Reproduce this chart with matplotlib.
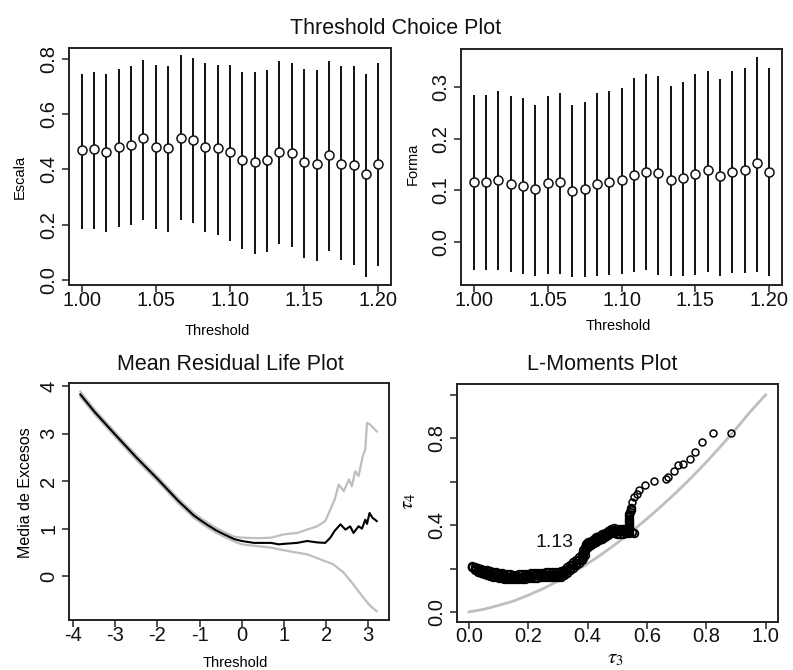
import matplotlib
matplotlib.use("Agg")
import matplotlib.pyplot as plt

plt.rcParams['font.family'] = ['Liberation Sans', 'DejaVu Sans']
plt.rcParams['mathtext.fontset'] = 'stix'

# ---- datos: Threshold Choice Plot ----
umbral = [1.0, 1.0083, 1.0167, 1.025, 1.0333, 1.0417, 1.05, 1.0583, 1.0667, 1.075,
          1.0833, 1.0917, 1.1, 1.1083, 1.1167, 1.125, 1.1333, 1.1417, 1.15, 1.1583,
          1.1667, 1.175, 1.1833, 1.1917, 1.2]
escala = [0.471, 0.475, 0.464, 0.480, 0.487, 0.513, 0.482, 0.476, 0.513, 0.506,
          0.482, 0.476, 0.464, 0.434, 0.427, 0.434, 0.464, 0.458, 0.426, 0.421,
          0.452, 0.421, 0.415, 0.384, 0.421]
escala_sup = [0.746, 0.753, 0.746, 0.764, 0.772, 0.796, 0.778, 0.772, 0.811, 0.803,
              0.784, 0.778, 0.778, 0.753, 0.753, 0.759, 0.790, 0.784, 0.764, 0.759,
              0.790, 0.772, 0.772, 0.746, 0.784]
escala_inf = [0.186, 0.186, 0.174, 0.192, 0.199, 0.216, 0.186, 0.174, 0.216, 0.206,
              0.174, 0.162, 0.141, 0.112, 0.096, 0.102, 0.131, 0.119, 0.080, 0.068,
              0.107, 0.072, 0.056, 0.012, 0.052]
forma = [0.116, 0.116, 0.120, 0.112, 0.109, 0.103, 0.113, 0.116, 0.099, 0.102,
         0.112, 0.116, 0.120, 0.129, 0.136, 0.133, 0.120, 0.123, 0.132, 0.139,
         0.127, 0.136, 0.139, 0.152, 0.136]
forma_sup = [0.285, 0.285, 0.292, 0.282, 0.279, 0.265, 0.282, 0.288, 0.265, 0.272,
             0.288, 0.292, 0.298, 0.318, 0.325, 0.322, 0.302, 0.309, 0.325, 0.332,
             0.315, 0.332, 0.338, 0.358, 0.338]
forma_inf = [-0.054, -0.054, -0.055, -0.058, -0.062, -0.066, -0.062, -0.062, -0.068, -0.068,
             -0.066, -0.064, -0.062, -0.058, -0.054, -0.064, -0.066, -0.066, -0.064, -0.059,
             -0.066, -0.061, -0.061, -0.058, -0.066]

# ---- datos: Mean Residual Life Plot ----
mrl_u = [-3.83, -3.5, -3.0, -2.5, -2.0, -1.5, -1.14, -1.0, -0.8, -0.6, -0.42, -0.18,
         0.0, 0.29, 0.69, 0.88, 1.0, 1.31, 1.55, 1.79, 1.98, 2.1, 2.2, 2.34, 2.46,
         2.57, 2.65, 2.77, 2.85, 2.93, 2.97, 3.03, 3.1, 3.2]
mrl_media = [3.83, 3.47, 2.98, 2.50, 2.05, 1.58, 1.28, 1.19, 1.07, 0.96, 0.88, 0.78,
             0.74, 0.70, 0.70, 0.67, 0.68, 0.70, 0.74, 0.71, 0.70, 0.81, 0.95, 1.09,
             0.98, 1.05, 0.91, 1.05, 1.00, 1.19, 1.10, 1.33, 1.23, 1.16]
ic_sup_u = [-3.83, -3.5, -3.0, -2.5, -2.0, -1.5, -1.14, -1.0, -0.8, -0.6, -0.42, -0.18,
            0.0, 0.4, 0.69, 1.0, 1.31, 1.55, 1.79, 1.98, 2.1, 2.2, 2.3, 2.42, 2.54,
            2.61, 2.69, 2.77, 2.87, 2.93, 2.97, 3.05, 3.2]
ic_sup = [3.89, 3.52, 3.03, 2.55, 2.10, 1.63, 1.33, 1.24, 1.12, 1.01, 0.93, 0.83,
          0.81, 0.80, 0.81, 0.88, 0.91, 0.98, 1.05, 1.16, 1.40, 1.61, 1.93, 1.79,
          2.04, 1.89, 2.21, 2.11, 2.53, 2.67, 3.23, 3.19, 3.05]
ic_inf_u = [-3.83, -3.5, -3.0, -2.5, -2.0, -1.5, -1.14, -1.0, -0.8, -0.6, -0.42, -0.18,
            0.0, 0.69, 1.08, 1.55, 1.87, 2.17, 2.42, 2.65, 2.89, 3.05, 3.2]
ic_inf = [3.78, 3.42, 2.93, 2.45, 2.00, 1.53, 1.23, 1.14, 1.02, 0.91, 0.83, 0.73,
          0.67, 0.60, 0.53, 0.46, 0.35, 0.25, 0.07, -0.18, -0.46, -0.63, -0.74]

# ---- datos: L-Moments Plot ----
t3_denso = [0.01, 0.02, 0.03, 0.04, 0.05, 0.06, 0.07, 0.08, 0.09, 0.10, 0.11, 0.12,
            0.13, 0.14, 0.15, 0.16, 0.17, 0.18, 0.19, 0.20, 0.21, 0.22, 0.23, 0.24,
            0.25, 0.26, 0.27, 0.28, 0.29, 0.30, 0.31, 0.32, 0.33, 0.34, 0.35, 0.36,
            0.37, 0.38, 0.385, 0.39, 0.395, 0.40, 0.41, 0.42, 0.43, 0.44, 0.45, 0.46,
            0.47, 0.48, 0.49, 0.50, 0.51, 0.52, 0.53, 0.54]
t4_denso_sup = [0.212, 0.207, 0.203, 0.199, 0.195, 0.191, 0.188, 0.185, 0.182, 0.180,
                0.178, 0.176, 0.174, 0.173, 0.172, 0.172, 0.173, 0.174, 0.176, 0.177,
                0.178, 0.179, 0.180, 0.181, 0.181, 0.182, 0.182, 0.182, 0.182, 0.184,
                0.187, 0.195, 0.206, 0.217, 0.228, 0.240, 0.252, 0.266, 0.285, 0.298,
                0.312, 0.320, 0.329, 0.336, 0.343, 0.350, 0.357, 0.365, 0.374, 0.384,
                0.385, 0.383, 0.382, 0.382, 0.384, 0.386]
t4_denso_med = [0.208, 0.200, 0.194, 0.189, 0.185, 0.181, 0.177, 0.174, 0.171, 0.169,
                0.167, 0.165, 0.163, 0.162, 0.161, 0.161, 0.162, 0.163, 0.165, 0.166,
                0.167, 0.168, 0.169, 0.170, 0.170, 0.171, 0.171, 0.171, 0.171, 0.172,
                0.174, 0.182, 0.193, 0.204, 0.215, 0.227, 0.239, 0.253, 0.268, 0.280,
                0.300, 0.310, 0.319, 0.326, 0.333, 0.340, 0.347, 0.355, 0.364, 0.374,
                0.374, 0.372, 0.371, 0.371, 0.373, 0.375]
t4_denso_inf = [0.205, 0.193, 0.185, 0.178, 0.174, 0.170, 0.166, 0.163, 0.160, 0.158,
                0.156, 0.154, 0.152, 0.151, 0.150, 0.150, 0.151, 0.152, 0.154, 0.155,
                0.156, 0.157, 0.158, 0.159, 0.159, 0.160, 0.160, 0.160, 0.160, 0.160,
                0.162, 0.170, 0.181, 0.192, 0.203, 0.214, 0.226, 0.240, 0.250, 0.262,
                0.288, 0.300, 0.309, 0.316, 0.323, 0.330, 0.337, 0.345, 0.354, 0.363,
                0.363, 0.361, 0.360, 0.360, 0.362, 0.364]
t3_tramo = [0.537, 0.538, 0.538, 0.539, 0.539, 0.540, 0.540, 0.541, 0.543, 0.545,
            0.547, 0.551, 0.555]
t4_tramo = [0.380, 0.390, 0.400, 0.410, 0.420, 0.430, 0.440, 0.450, 0.460, 0.470,
            0.480, 0.370, 0.365]
t3_disperso = [0.551, 0.556, 0.565, 0.573, 0.592, 0.624, 0.664, 0.671, 0.690, 0.706,
               0.722, 0.745, 0.762, 0.787, 0.822, 0.882]
t4_disperso = [0.507, 0.531, 0.545, 0.560, 0.584, 0.604, 0.612, 0.622, 0.650, 0.676,
               0.680, 0.706, 0.737, 0.781, 0.822, 0.822]
gpd_t3 = [0.0, 0.05, 0.1, 0.15, 0.2, 0.25, 0.3, 0.35, 0.4, 0.45, 0.5, 0.55, 0.6,
          0.65, 0.7, 0.75, 0.8, 0.85, 0.9, 0.95, 1.0]
gpd_t4 = [0.0, 0.012, 0.03, 0.05, 0.077, 0.107, 0.142, 0.18, 0.222, 0.268, 0.318,
          0.372, 0.429, 0.489, 0.552, 0.619, 0.69, 0.765, 0.843, 0.925, 1.0]

W, H = 793, 670
fig = plt.figure(figsize=(W / 100, H / 100), dpi=100)
gris = '#bebebe'
borde = '#222222'


def caja(l, t, r, b):
    return fig.add_axes([l / W, 1 - b / H, (r - l) / W, (b - t) / H])


def texto(x, y, s, **kw):
    fig.text(x / W, 1 - y / H, s, **kw)


def estilo(ax, xt, xl, yt, yl):
    ax.set_xticks(xt)
    ax.set_xticklabels(xl)
    ax.set_yticks(yt)
    ax.set_yticklabels(yl, rotation=90, va='center')
    ax.tick_params(direction='out', length=5, width=1.1, labelsize=14.5,
                   colors=borde, labelcolor='#111111')
    ax.tick_params(axis='x', pad=-1)
    ax.tick_params(axis='y', pad=2.5)
    for s in ax.spines.values():
        s.set_linewidth(1.4)
        s.set_color(borde)


# panel 1: Escala
ax1 = caja(69, 48, 391, 285)
ax1.vlines(umbral, escala_inf, escala_sup, color='#111111', lw=1.4)
ax1.plot(umbral, escala, 'o', mfc='white', mec='#111111', ms=6.5, mew=1.1)
ax1.set_xlim(0.9915, 1.2085)
ax1.set_ylim(-0.017, 0.838)
estilo(ax1, [1.0, 1.05, 1.1, 1.15, 1.2], ['1.00', '1.05', '1.10', '1.15', '1.20'],
       [0, 0.2, 0.4, 0.6, 0.8], ['0.0', '0.2', '0.4', '0.6', '0.8'])

# panel 2: Forma
ax2 = caja(461, 49, 782, 285.5)
ax2.vlines(umbral, forma_inf, forma_sup, color='#111111', lw=1.4)
ax2.plot(umbral, forma, 'o', mfc='white', mec='#111111', ms=6.5, mew=1.1)
ax2.set_xlim(0.9915, 1.2085)
ax2.set_ylim(-0.085, 0.374)
estilo(ax2, [1.0, 1.05, 1.1, 1.15, 1.2], ['1.00', '1.05', '1.10', '1.15', '1.20'],
       [0, 0.1, 0.2, 0.3], ['0.0', '0.1', '0.2', '0.3'])

# panel 3: vida residual media
ax3 = caja(68.5, 383, 388.5, 620)
ax3.plot(ic_sup_u, ic_sup, color=gris, lw=1.6)
ax3.plot(ic_inf_u, ic_inf, color=gris, lw=1.6)
ax3.plot(mrl_u, mrl_media, color='black', lw=1.5)
ax3.set_xlim(-4.11, 3.48)
ax3.set_ylim(-0.925, 4.07)
estilo(ax3, [-4, -3, -2, -1, 0, 1, 2, 3], ['-4', '-3', '-2', '-1', '0', '1', '2', '3'],
       [0, 1, 2, 3, 4], ['0', '1', '2', '3', '4'])

# panel 4: L-momentos
ax4 = caja(457, 384, 777.5, 621.7)
ax4.plot(gpd_t3, gpd_t4, color=gris, lw=2)
for t4 in (t4_denso_sup, t4_denso_med, t4_denso_inf):
    ax4.plot(t3_denso, t4, 'o', mfc='none', mec='black', ms=5.5, mew=1.3)
ax4.plot(t3_tramo, t4_tramo, 'o', mfc='none', mec='black', ms=5.5, mew=1.3)
ax4.plot(t3_disperso, t4_disperso, 'o', mfc='none', mec='black', ms=5, mew=1.1)
ax4.text(0.289, 0.319, '1.13', fontsize=14, ha='center', va='center', color='#111111')
ax4.set_xlim(-0.04, 1.04)
ax4.set_ylim(-0.045, 1.05)
estilo(ax4, [0, 0.2, 0.4, 0.6, 0.8, 1.0], ['0.0', '0.2', '0.4', '0.6', '0.8', '1.0'],
       [0, 0.2, 0.4, 0.6, 0.8, 1.0], ['0.0', '', '0.4', '', '0.8', ''])

# textos
texto(396, 34, 'Threshold Choice Plot', ha='center', va='baseline', fontsize=15.5, color='#111111')
texto(230, 365, 'Mean Residual Life Plot', ha='center', va='center', fontsize=15.5, color='#111111')
texto(602, 365, 'L-Moments Plot', ha='center', va='center', fontsize=15.5, color='#111111')
texto(217, 331, 'Threshold', ha='center', va='center', fontsize=10.5)
texto(618, 326, 'Threshold', ha='center', va='center', fontsize=10.5)
texto(235, 663, 'Threshold', ha='center', va='center', fontsize=10.5)
texto(615, 658, r'$\tau_3$', ha='center', va='center', fontsize=15)
texto(20, 177, 'Escala', ha='center', va='center', rotation=90, fontsize=10.5)
texto(413, 164, 'Forma', ha='center', va='center', rotation=90, fontsize=10.5)
texto(26, 493, 'Media de Excesos', ha='center', va='center', rotation=90, fontsize=11.5)
texto(409, 501, r'$\tau_4$', ha='center', va='center', rotation=90, fontsize=15)

fig.savefig('out.png', dpi=100)
